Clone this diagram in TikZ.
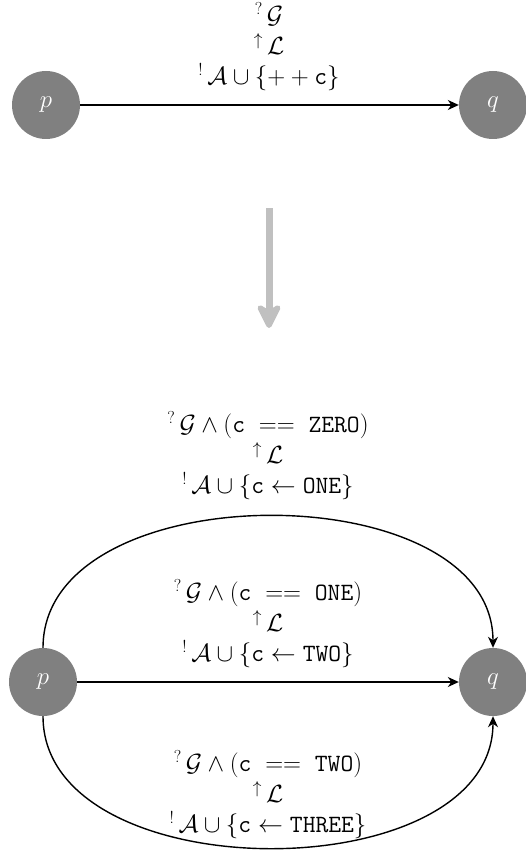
\documentclass[tikz,border=0pt]{standalone}
\usetikzlibrary{arrows.meta}
\begin{document}
\begin{tikzpicture}[x=1pt,y=-1pt,
  state/.style={circle,fill={rgb,255:red,128;green,128;blue,128},minimum size=68pt,inner sep=0pt,text=white,font=\fontsize{24}{27}\selectfont},
  lbl/.style={align=center,inner sep=0pt,font=\fontsize{25}{30.5}\selectfont},
  edge/.style={line width=1.4pt,-{Stealth[length=11pt,width=10pt,inset=3.5pt]}}]
\useasboundingbox (0,0) rectangle (525,853);
% top
\node[state] (p1) at (46,105) {$p$};
\node[state] (q1) at (493,105) {$q$};
\draw[edge] (p1) -- (q1);
\node[lbl] (l1) at (269,47) {${}^{?}\,\mathcal{G}$\\ ${}^{\uparrow}\,\mathcal{L}$\\ ${}^{!}\,\mathcal{A}\cup\{++\mathtt{c}\}$};
% transform arrow
\coordinate (a1) at (269,208);
\coordinate (a2) at (269,328);
\draw[line width=7pt,color={rgb,255:red,192;green,192;blue,192},-{Stealth[length=30pt,width=30pt,inset=9pt,round]}] (a1) -- (a2);
% bottom
\node[state] (p2) at (43,682) {$p$};
\node[state] (q2) at (493,682) {$q$};
\draw[edge] (p2) -- (q2);
\draw[edge] (p2.north) to[out=90,in=90] (q2.north);
\draw[edge] (p2.south) to[out=-90,in=-90] (q2.south);
\node[lbl] (l2) at (268,456) {${}^{?}\,\mathcal{G}\wedge(\mathtt{c}\;\mathrel{==}\;\mathtt{ZERO})$\\ ${}^{\uparrow}\,\mathcal{L}$\\ ${}^{!}\,\mathcal{A}\cup\{\mathtt{c}\leftarrow\mathtt{ONE}\}$};
\node[lbl] (l3) at (268,624) {${}^{?}\,\mathcal{G}\wedge(\mathtt{c}\;\mathrel{==}\;\mathtt{ONE})$\\ ${}^{\uparrow}\,\mathcal{L}$\\ ${}^{!}\,\mathcal{A}\cup\{\mathtt{c}\leftarrow\mathtt{TWO}\}$};
\node[lbl] (l4) at (268,795) {${}^{?}\,\mathcal{G}\wedge(\mathtt{c}\;\mathrel{==}\;\mathtt{TWO})$\\ ${}^{\uparrow}\,\mathcal{L}$\\ ${}^{!}\,\mathcal{A}\cup\{\mathtt{c}\leftarrow\mathtt{THREE}\}$};
\end{tikzpicture}
\end{document}
